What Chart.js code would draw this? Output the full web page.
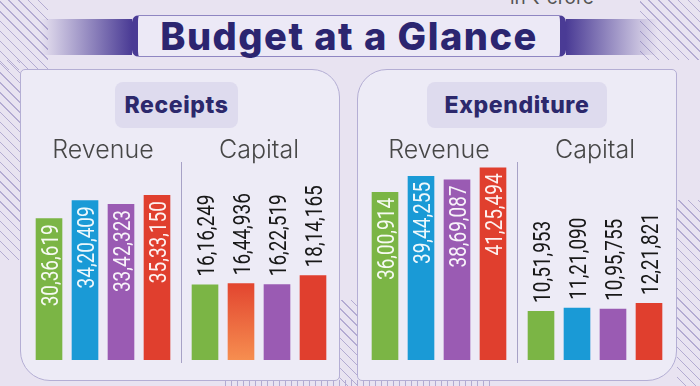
<!DOCTYPE html>
<html>
<head>
<meta charset="utf-8">
<script src="https://cdn.jsdelivr.net/npm/chart.js@4.4.1/dist/chart.umd.min.js"></script>
<style>
  html, body { margin: 0; padding: 0; }
  body { width: 700px; height: 386px; overflow: hidden; position: relative; background: #e8e3f1; font-family: Inter, 'Open Sans', sans-serif; }
  .abs { position: absolute; }
  .hatch { background: repeating-linear-gradient(45deg, transparent 0 6px, #b3abd2 6px 7px); }
  .panel { background: #edebf6; border: 1.5px solid #b4aed4; box-sizing: border-box; }
  #left-panel { left: 20px; top: 69px; width: 320px; height: 312px; border-radius: 5px 28px 5px 30px; }
  #right-panel { left: 357px; top: 69px; width: 320px; height: 312px; border-radius: 30px 5px 30px 5px; }
  .pill { background: #dedbee; border-radius: 8px; color: #2c286c; font-weight: 800; font-size: 23px; text-align: center; letter-spacing: 0.6px; line-height: 46px; height: 46px; top: 82px; }
  #title-box { left: 132px; top: 15px; width: 434px; height: 42px; box-sizing: border-box; background: #ece9f6;
    border-top: 1px solid #8f86c2; border-bottom: 1px solid #8f86c2; border-left: 6px solid #4a3b95; border-right: 6px solid #4a3b95;
    border-radius: 7px; color: #2b2570; font-weight: 800; font-size: 38px; line-height: 40px; text-align: center; letter-spacing: 1.5px; }
  .wing { top: 19px; height: 36px; width: 92px; }
  #unit { left: 510px; top: -12px; font-size: 19px; line-height: 19px; color: #555; }
  canvas { position: absolute; }
</style>
</head>
<body>
<div class="abs hatch" style="left:0;top:0;width:48px;height:70px;"></div>
<div class="abs hatch" style="left:0;top:60px;width:20px;height:200px;"></div>
<div class="abs hatch" style="left:640px;top:0;width:60px;height:60px;"></div>
<div class="abs hatch" style="left:677px;top:200px;width:23px;height:186px;"></div>
<div class="abs hatch" style="left:339px;top:300px;width:19px;height:86px;"></div>
<div class="abs" style="left:220px;top:380px;width:270px;height:6px;background:repeating-linear-gradient(90deg, transparent 0 5px, #b3abd2 5px 6px);"></div>

<div id="unit" class="abs">in ₹ crore</div>
<div class="abs wing" style="left:40px;background:linear-gradient(to right, rgba(120,105,185,0), #4a3b95);"></div>
<div class="abs wing" style="left:566px;background:linear-gradient(to right, #4a3b95, rgba(120,105,185,0));"></div>
<div id="title-box" class="abs">Budget at a Glance</div>

<div id="left-panel" class="abs panel"></div>
<div id="right-panel" class="abs panel"></div>
<div class="abs pill" style="left:115px;width:123px;">Receipts</div>
<div class="abs pill" style="left:427px;width:180px;">Expenditure</div>

<canvas id="receiptsChart" width="312" height="237" style="left:25px;top:128px;"></canvas>
<canvas id="expenditureChart" width="312" height="237" style="left:361px;top:128px;"></canvas>

<script>
// values in ₹ crore, four bars per group
const groups = ['Revenue', 'Capital'];
const receiptsRevenue = [3036619, 3420409, 3342323, 3533150];
const receiptsCapital = [1616249, 1644936, 1622519, 1814165];
const expenditureRevenue = [3600914, 3944255, 3869087, 4125494];
const expenditureCapital = [1051953, 1121090, 1095755, 1221821];
const barColors = ['#7bb545', '#1a9ad6', '#9a5bb3', '#e03f2e'];

// Indian digit grouping: 30,36,619
function formatIndian(n) {
    let s = String(n);
    let last3 = s.slice(-3);
    let rest = s.slice(0, -3);
    if (rest) {
        rest = rest.replace(/\B(?=(\d{2})+(?!\d))/g, ',');
        return rest + ',' + last3;
    }
    return last3;
}

const valueLabels = {
    id: 'valueLabels',
    afterDatasetsDraw(chart) {
        let ctx = chart.ctx;
        let fontSize = 24;
        ctx.save();
        ctx.font = fontSize + "px Roboto, 'DejaVu Sans Condensed', sans-serif";
        ctx.textBaseline = 'alphabetic';
        let capH = fontSize * 0.711;
        chart.data.datasets.forEach((ds, di) => {
            chart.getDatasetMeta(di).data.forEach((bar, i) => {
                let text = formatIndian(ds.data[i]);
                ctx.save();
                if (i === 0) {
                    ctx.translate(bar.x, bar.y + 6);
                    ctx.rotate(-Math.PI / 2);
                    ctx.textAlign = 'right';
                    ctx.fillStyle = 'rgba(255,255,255,0.93)';
                } else {
                    ctx.translate(bar.x, bar.y - 8);
                    ctx.rotate(-Math.PI / 2);
                    ctx.textAlign = 'left';
                    ctx.fillStyle = '#181818';
                }
                ctx.scale(0.79, 1); // condensed look
                ctx.fillText(text, 0, capH / 2);
                ctx.restore();
            });
        });
        ctx.restore();
    }
};

const divider = {
    id: 'divider',
    beforeDatasetsDraw(chart) {
        let metaLast = chart.getDatasetMeta(3).data[0];
        let metaFirst = chart.getDatasetMeta(0).data[1];
        let x = Math.round((metaLast.x + metaFirst.x) / 2) + 0.5;
        let ctx = chart.ctx;
        let area = chart.chartArea;
        ctx.save();
        ctx.strokeStyle = '#a7a2c6';
        ctx.lineWidth = 1;
        ctx.beginPath();
        ctx.moveTo(x, area.top - 6);
        ctx.lineTo(x, area.bottom + 3);
        ctx.stroke();
        ctx.restore();
    }
};

function renderPanel(canvasId, revenue, capital, gradientBar) {
    let datasets = barColors.map((color, i) => ({
        data: [revenue[i], capital[i]],
        backgroundColor: function(context) {
            if (gradientBar && context.datasetIndex === 1 && context.dataIndex === 1) {
                let chartArea = context.chart.chartArea;
                if (!chartArea) return '#ec6a3c';
                let g = context.chart.ctx.createLinearGradient(0, chartArea.bottom - 78, 0, chartArea.bottom);
                g.addColorStop(0, '#e2442f');
                g.addColorStop(1, '#f68e50');
                return g;
            }
            return color;
        },
        borderWidth: 0,
        clip: false,
        categoryPercentage: 0.923,
        barPercentage: 0.74
    }));

    return new Chart(document.getElementById(canvasId), {
        type: 'bar',
        data: { labels: groups, datasets: datasets },
        options: {
            responsive: false,
            animation: false,
            devicePixelRatio: 1,
            layout: { padding: { top: 0, bottom: 5, left: 0, right: 0 } },
            plugins: { legend: { display: false }, tooltip: { enabled: false } },
            scales: {
                x: {
                    position: 'top',
                    grid: { display: false, drawTicks: false },
                    border: { display: false },
                    ticks: {
                        color: '#474747',
                        padding: 3,
                        font: { family: 'Inter', size: 25, weight: '300' }
                    },
                    afterFit: function(scale) { scale.height = 40; }
                },
                y: { display: false, min: 0, max: 4114000 }
            }
        },
        plugins: [divider, valueLabels]
    });
}

renderPanel('receiptsChart', receiptsRevenue, receiptsCapital, true);
renderPanel('expenditureChart', expenditureRevenue, expenditureCapital, false);
</script>
</body>
</html>
